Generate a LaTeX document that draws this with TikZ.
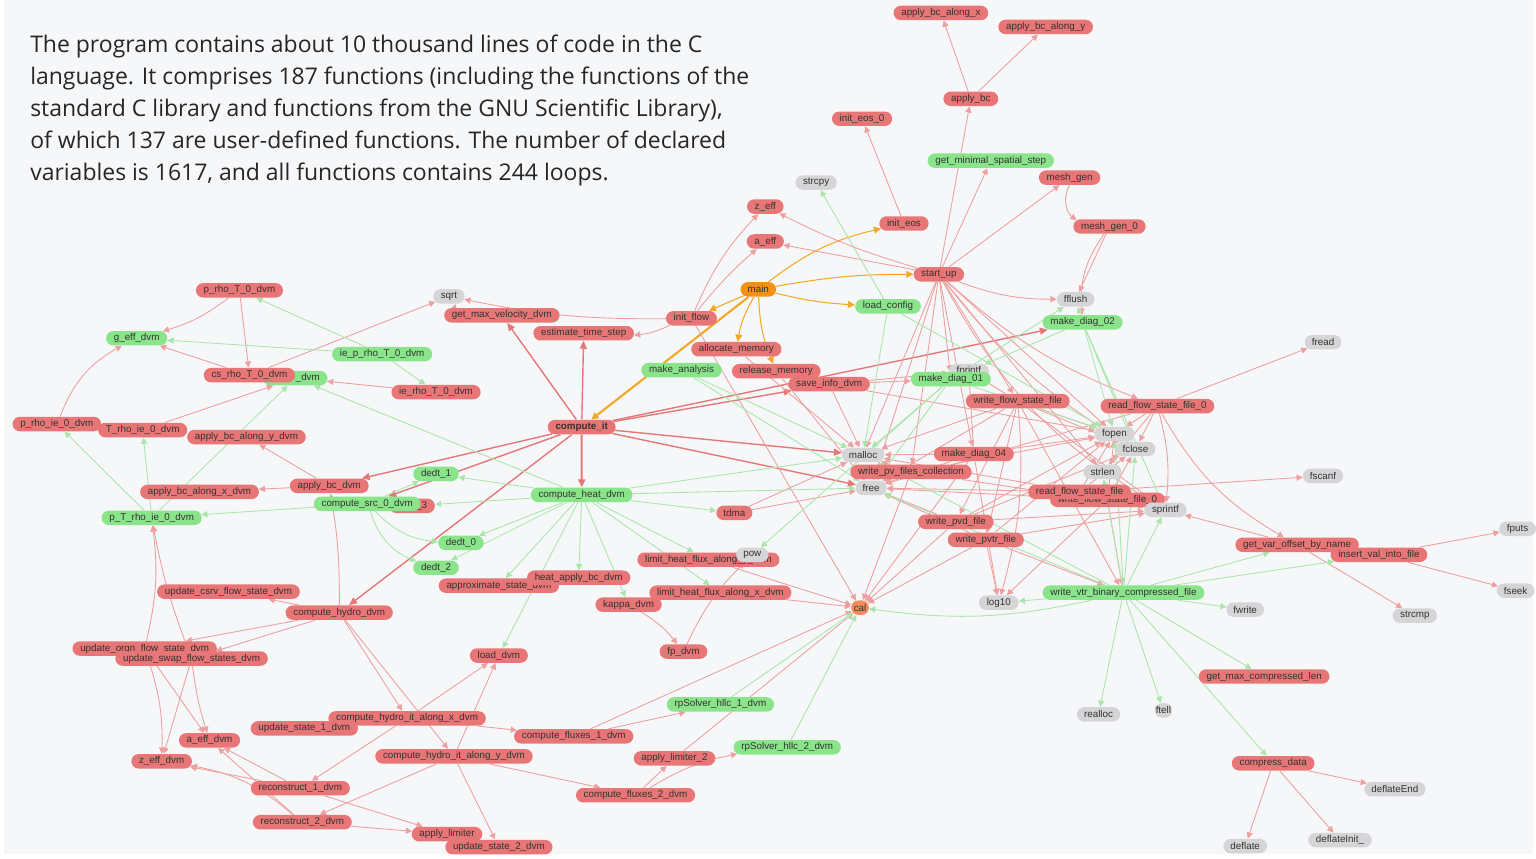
\documentclass[tikz,border=0pt]{standalone}
\usepackage{fontspec}
\setmainfont{Open Sans}
\newfontfamily\fnfont{Liberation Sans}
\usetikzlibrary{arrows.meta,shapes.misc}
\definecolor{bgc}{RGB}{246,247,249}
\definecolor{redf}{RGB}{232,118,118}
\definecolor{greenf}{RGB}{138,228,138}
\definecolor{grayf}{RGB}{213,213,215}
\definecolor{mainf}{RGB}{245,145,20}
\definecolor{calf}{RGB}{245,138,92}
\definecolor{rede}{RGB}{238,160,160}
\definecolor{redx}{RGB}{228,120,120}
\definecolor{greene}{RGB}{170,230,170}
\definecolor{orangee}{RGB}{245,168,40}
\definecolor{txtc}{RGB}{50,50,50}
\pgfdeclarelayer{bg}
\pgfsetlayers{bg,main}
\tikzset{
  fn/.style={rounded rectangle, inner xsep=3.5pt, inner ysep=0pt, minimum height=0.29cm,
    text=txtc, font=\fnfont\fontsize{5.6}{6}\selectfont},
  fr/.style={fn, fill=redf},
  fg/.style={fn, fill=greenf},
  fx/.style={fn, fill=grayf, minimum width=0.6cm},
  re/.style={draw=rede, line width=0.5pt, -{Triangle[length=3.5pt,width=3.5pt]}},
  rx/.style={draw=redx, line width=0.8pt, -{Triangle[length=4.5pt,width=4pt]}},
  ge/.style={draw=greene, line width=0.5pt, -{Triangle[length=3.5pt,width=3.5pt]}},
  oe/.style={draw=orangee, line width=0.6pt, -{Triangle[length=4pt,width=4pt]}}
}
\begin{document}
\begin{tikzpicture}[x=0.02cm,y=-0.02cm]
% page
\begin{pgfonlayer}{bg}
\fill[white] (0,0) rectangle (1536,860);
\fill[bgc] (4,0) rectangle (1536,856);
\end{pgfonlayer}
\node[anchor=north west, inner sep=0pt, align=left, text=black!85,
  font=\fontsize{13.1}{18.2}\selectfont] (intro) at (30,35)
  {The program contains about 10 thousand lines of code in the C\\
   language. It comprises 187 functions (including the functions of the\\
   standard C library and functions from the GNU Scientific Library),\\
   of which 137 are user-defined functions. The number of declared\\
   variables is 1617, and all functions contains 244 loops.};

% functions, top
\node[fr] (applybcx) at (943,13) {apply\_bc\_along\_x};
\node[fr] (applybcy) at (1048,27) {apply\_bc\_along\_y};
\node[fr] (applybc) at (973,99) {apply\_bc};
\node[fr] (initeoso) at (864,119) {init\_eos\_0};
\node[fg] (getminstep) at (993,161) {get\_minimal\_spatial\_step};
\node[fr] (meshgen) at (1072,178) {mesh\_gen};
\node[fx] (strcpy) at (818,183) {strcpy};
\node[fr] (zeff) at (767,207) {z\_eff};
\node[fr] (initeos) at (906,224) {init\_eos};
\node[fr] (meshgeno) at (1112,227) {mesh\_gen\_0};
\node[fr] (aeff) at (767,242) {a\_eff};
\node[fr] (startup) at (941,275) {start\_up};
\node[fn, fill=mainf, minimum width=0.68cm] (main) at (760,290) {main};
\node[fr] (prhoT) at (240,291) {p\_rho\_T\_0\_dvm};
\node[fx] (sqrt) at (450,297) {sqrt};
\node[fx] (fflush) at (1078,300) {fflush};
\node[fg] (loadconfig) at (890,307) {load\_config};
\node[fr] (getmaxvel) at (503,316) {get\_max\_velocity\_dvm};
\node[fr] (initflow) at (693,319) {init\_flow};
\node[fg] (makediagb) at (1085,323) {make\_diag\_02};
\node[fr] (esttime) at (585,334) {estimate\_time\_step};
\node[fg] (geff) at (137,339) {g\_eff\_dvm};
\node[fx] (fread) at (1326,343) {fread};
\node[fr] (allocmem) at (738,350) {allocate\_memory};
\node[fg] (ieprhoT) at (383,355) {ie\_p\_rho\_T\_0\_dvm};
\node[fg] (makeanalysis) at (683,371) {make\_analysis};
\node[fr] (releasemem) at (778,372) {release\_memory};
\node[fg] (gdvm) at (296,379) {\hspace{0.5cm}\_dvm};
\node[fr] (csrhoT) at (250,376) {cs\_rho\_T\_0\_dvm};
\node[fr] (saveinfo) at (831,385) {save\_info\_dvm};
\node[fx] (fprintf) at (971,372) {fprintf};
\node[fg] (makediaga) at (953,380) {make\_diag\_01};
\node[fr] (ierhoT) at (437,393) {ie\_rho\_T\_0\_dvm};
\node[fr] (writeflow) at (1020,402) {write\_flow\_state\_file};
\node[fr] (readflowo) at (1160,407) {read\_flow\_state\_file\_0};

% functions, middle
\node[fr] (prhoie) at (57,425) {p\_rho\_ie\_0\_dvm};
\node[fr] (Trhoie) at (143,431) {T\_rho\_ie\_0\_dvm};
\node[fr, font=\fnfont\bfseries\fontsize{5.6}{6}\selectfont] (computeit) at (583,428) {compute\_it};
\node[fr] (applybcydvm) at (247,438) {apply\_bc\_along\_y\_dvm};
\node[fx] (fopen) at (1117,435) {fopen};
\node[fx] (fclose) at (1138,450) {fclose};
\node[fx] (malloc) at (865,456) {malloc};
\node[fr] (makediagd) at (976,455) {make\_diag\_04};
\node[fr] (writepv) at (913,473) {write\_pv\_files\_collection};
\node[fg] (dedta) at (437,475) {dedt\_1};
\node[fx] (strlen) at (1105,473) {strlen};
\node[fx] (fscanf) at (1326,477) {fscanf};
\node[fr] (applybcdvm) at (330,487) {apply\_bc\_dvm};
\node[fr] (applybcxdvm) at (200,493) {apply\_bc\_along\_x\_dvm};
\node[fg] (computeheat) at (583,496) {compute\_heat\_dvm};
\node[fx] (free) at (873,489) {free};
\node[fr] (writeflowo) at (1110,501) {write\_flow\_state\_file\_0};
\node[fr] (readflow) at (1082,493) {read\_flow\_state\_file};
\node[fr] (dedtc) at (413,507) {dedt\_3};
\node[fg] (computesrc) at (368,505) {compute\_src\_0\_dvm};
\node[fx] (sprintf) at (1168,511) {sprintf};
\node[fr] (tdma) at (736,514) {tdma};
\node[fg] (pTrhoie) at (152,519) {p\_T\_rho\_ie\_0\_dvm};
\node[fr] (writepvd) at (958,523) {write\_pvd\_file};
\node[fg] (dedtb) at (462,544) {dedt\_0};
\node[fr] (writepvtr) at (988,541) {write\_pvtr\_file};
\node[fx] (fputs) at (1521,530) {fputs};
\node[fr] (getvaroff) at (1300,546) {get\_var\_offset\_by\_name};
\node[fr] (limity) at (710,561) {limit\_heat\_flux\_along\_y\_dvm};
\node[fx] (pow) at (754,556) {pow};
\node[fr] (insertval) at (1382,556) {insert\_val\_into\_file};
\node[fg] (dedtd) at (437,569) {dedt\_2};
\node[fr] (approx) at (500,587) {approximate\_state\_dvm};
\node[fr] (heatbc) at (580,579) {heat\_apply\_bc\_dvm};
\node[fr] (limitx) at (722,594) {limit\_heat\_flux\_along\_x\_dvm};
\node[fr] (updatecsrv) at (229,593) {update\_csrv\_flow\_state\_dvm};
\node[fg] (writevtr) at (1126,594) {write\_vtr\_binary\_compressed\_file};
\node[fx] (log10) at (1001,604) {log10};
\node[fr] (kappa) at (630,606) {kappa\_dvm};
\node[fx] (fwrite) at (1248,611) {fwrite};
\node[fr] (computehydro) at (340,614) {compute\_hydro\_dvm};
\node[fx] (strcmp) at (1418,617) {strcmp};
\node[fn, fill=calf, minimum width=0.6cm] (cal) at (862,609) {cal};
\node[fx] (fseek) at (1519,592) {fseek};

% functions, bottom
\node[fr] (updateorgn) at (145,650) {update\_orgn\_flow\_state\_dvm};
\node[fr] (updateswap) at (192,660) {update\_swap\_flow\_states\_dvm};
\node[fr] (loaddvm) at (500,657) {load\_dvm};
\node[fr] (fpdvm) at (685,653) {fp\_dvm};
\node[fr] (getmaxcomp) at (1267,678) {get\_max\_compressed\_len};
\node[fg] (rpa) at (722,706) {rpSolver\_hllc\_1\_dvm};
\node[fx] (realloc) at (1101,716) {realloc};
\node[fx] (ftell) at (1166,712) {ftell};
\node[fr] (hydrox) at (408,720) {compute\_hydro\_it\_along\_x\_dvm};
\node[fr] (updatea) at (305,730) {update\_state\_1\_dvm};
\node[fr] (fluxa) at (575,738) {compute\_fluxes\_1\_dvm};
\node[fr] (aeffdvm) at (210,742) {a\_eff\_dvm};
\node[fg] (rpb) at (789,749) {rpSolver\_hllc\_2\_dvm};
\node[fr] (hydroy) at (455,758) {compute\_hydro\_it\_along\_y\_dvm};
\node[fr] (limiterb) at (676,760) {apply\_limiter\_2};
\node[fr] (zeffdvm) at (162,763) {z\_eff\_dvm};
\node[fr] (compress) at (1276,765) {compress\_data};
\node[fr] (recona) at (301,790) {reconstruct\_1\_dvm};
\node[fx] (deflateEnd) at (1398,791) {deflateEnd};
\node[fr] (fluxb) at (637,797) {compute\_fluxes\_2\_dvm};
\node[fr] (reconb) at (303,824) {reconstruct\_2\_dvm};
\node[fr] (limiter) at (448,836) {apply\_limiter};
\node[fr] (updateb) at (500,849) {update\_state\_2\_dvm};
\node[fx] (deflateInit) at (1343,842) {deflateInit\_};
\node[fx] (deflate) at (1248,848) {deflate};

\begin{pgfonlayer}{bg}
% calls from main
\foreach \a/\b/\c in {main/startup/5, main/initeos/12, main/loadconfig/-5, main/allocmem/-10,
  main/releasemem/-10, main/initflow/0}
  \draw[oe] (\a) to[bend left=\c] (\b);
\draw[oe, line width=1.2pt] (main) -- (computeit);
% calls from compute_it
\foreach \b in {getmaxvel, esttime, applybcdvm, computesrc, computehydro, saveinfo, malloc, free, makediagb}
  \draw[rx] (computeit) -- (\b);
\draw[rx, line width=1.1pt] (computeit) -- (computeheat);
% red callers
\foreach \a/\b/\c in {initflow/zeff/10, initflow/aeff/5, initflow/sqrt/6, initflow/esttime/10, initflow/cal/0,
  startup/zeff/5, startup/aeff/0, startup/applybc/0, startup/getminstep/0, startup/meshgen/0,
  initeos/initeoso/0, applybc/applybcx/0, applybc/applybcy/0, meshgen/meshgeno/-40,
  meshgeno/fflush/0, meshgeno/makediagb/-20, startup/fflush/-10, startup/writeflow/0,
  startup/readflowo/-10, startup/malloc/0, startup/free/0, startup/fopen/0, startup/makediaga/0,
  startup/makediagd/0, startup/writepv/0, startup/fclose/-10, startup/sprintf/-15, startup/strlen/0,
  getmaxvel/sqrt/30, csrhoT/sqrt/0, prhoT/geff/10, prhoT/csrhoT/0, csrhoT/geff/0,
  ierhoT/gdvm/0, Trhoie/gdvm/0, prhoie/geff/20,
  applybcdvm/applybcxdvm/0, applybcdvm/applybcydvm/0, computehydro/applybcdvm/-5,
  computehydro/updatecsrv/0, computehydro/updateorgn/0, computehydro/updateswap/0,
  computehydro/hydrox/0, computehydro/hydroy/0, updateorgn/pTrhoie/-10, updateswap/pTrhoie/5,
  updateorgn/zeffdvm/10, updateorgn/aeffdvm/0, updateswap/zeffdvm/0, updateswap/aeffdvm/-5,
  hydrox/loaddvm/0, hydrox/fluxa/0, hydrox/recona/0, hydrox/updatea/0,
  hydroy/loaddvm/0, hydroy/fluxb/0, hydroy/updateb/0, hydroy/reconb/0,
  recona/zeffdvm/0, recona/aeffdvm/0, recona/limiter/0, reconb/zeffdvm/-15, reconb/aeffdvm/0,
  reconb/limiter/0, fluxa/rpa/0, fluxb/limiterb/0, fluxb/rpb/10, limiterb/cal/0, fluxa/cal/0,
  kappa/fpdvm/10, fpdvm/pow/10, limitx/cal/0, limity/cal/0, tdma/malloc/0, tdma/free/0,
  saveinfo/makediaga/0, saveinfo/fprintf/0, saveinfo/malloc/0, saveinfo/fopen/0,
  allocmem/malloc/0, releasemem/free/0,
  writeflow/fopen/0, writeflow/fclose/0, writeflow/fprintf/0, writeflow/sprintf/0,
  writeflow/writevtr/0, writeflow/writepvd/0, writeflow/writepvtr/0, writeflow/free/0,
  writeflow/malloc/0, writeflow/log10/10,
  readflowo/fread/0, readflowo/fopen/0, readflowo/fclose/0, readflowo/getvaroff/-15,
  readflowo/sprintf/10, readflowo/strlen/0, readflowo/free/0,
  readflow/fscanf/0, readflow/fopen/0, readflow/fclose/0, readflow/free/0, readflow/malloc/0,
  writeflowo/fopen/0, writeflowo/fclose/0, writeflowo/sprintf/0, writeflowo/log10/0,
  writeflowo/writevtr/0, writeflowo/free/0,
  writepv/malloc/0, writepv/free/0, writepv/sprintf/0, writepv/fopen/0, writepv/cal/0,
  writepvd/free/0, writepvd/sprintf/0, writepvd/cal/0, writepvd/fopen/0, writepvd/fclose/0,
  writepvtr/log10/0, writepvtr/sprintf/0, writepvtr/cal/0, writepvtr/writevtr/0,
  writepvtr/free/0, writepvtr/fopen/0,
  makediagd/fopen/0, makediagd/fprintf/0, makediagd/malloc/0, makediagd/free/0,
  makediagd/cal/0, makediagd/log10/0,
  getvaroff/strcmp/0, getvaroff/sprintf/0, insertval/fputs/0, insertval/fseek/0,
  compress/deflate/0, compress/deflateInit/0, compress/deflateEnd/0}
  \draw[re] (\a) to[bend left=\c] (\b);
% green callers
\foreach \a/\b/\c in {loadconfig/strcpy/0, loadconfig/malloc/0, loadconfig/fopen/0,
  ieprhoT/prhoT/0, ieprhoT/ierhoT/0, ieprhoT/geff/0,
  pTrhoie/prhoie/0, pTrhoie/Trhoie/0, pTrhoie/gdvm/0, computesrc/pTrhoie/0,
  computesrc/dedta/0, computesrc/dedtb/-20, computesrc/dedtd/-25,
  computeheat/dedta/0, computeheat/dedtc/0, computeheat/dedtb/0, computeheat/dedtd/0,
  computeheat/approx/0, computeheat/heatbc/0, computeheat/kappa/0, computeheat/limity/0,
  computeheat/limitx/0, computeheat/tdma/0, computeheat/loaddvm/0, computeheat/gdvm/0,
  computeheat/malloc/0, computeheat/free/0,
  makeanalysis/free/0, makeanalysis/malloc/0,
  makediagb/fflush/0, makediagb/fopen/0, makediagb/fclose/0, makediagb/sprintf/0, makediagb/fprintf/0,
  makediaga/malloc/0, makediaga/free/0, makediaga/fopen/0, makediaga/fflush/0, makediaga/pow/0,
  writevtr/realloc/0, writevtr/ftell/0, writevtr/compress/0, writevtr/getmaxcomp/0,
  writevtr/fwrite/0, writevtr/log10/0, writevtr/cal/10, writevtr/sprintf/0, writevtr/getvaroff/0,
  writevtr/insertval/0, writevtr/fopen/0, writevtr/fclose/0, writevtr/strlen/0,
  writevtr/malloc/0, writevtr/free/0, rpa/cal/0, rpb/cal/0}
  \draw[ge] (\a) to[bend left=\c] (\b);
\end{pgfonlayer}
\end{tikzpicture}
\end{document}
